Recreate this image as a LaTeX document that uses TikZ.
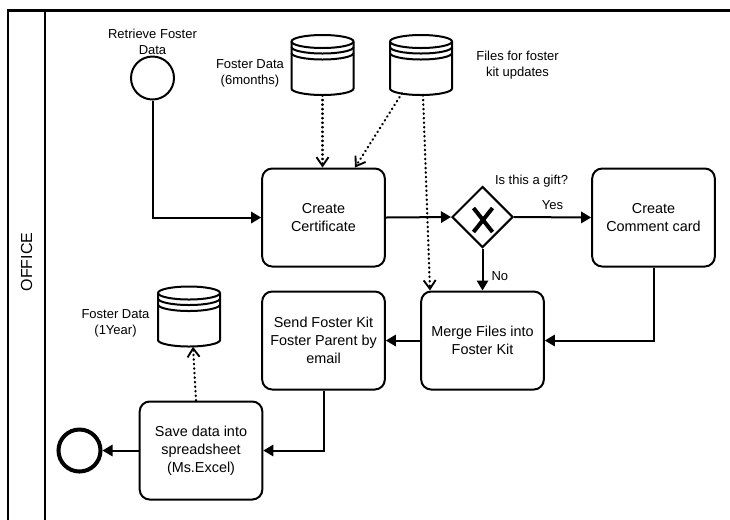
\documentclass[tikz,border=0pt]{standalone}
\usepackage{fontspec}
\setmainfont{Liberation Sans}
\usetikzlibrary{arrows.meta,shapes.geometric,calc}
\newcommand\drawstore[1]{%
  \begin{scope}[shift={(#1.center)},x=0.75pt,y=0.75pt,line width=1.5pt]
    \draw (0,23.5) ellipse[x radius=31,y radius=6.5];
    \draw (-31,18) arc[start angle=180,end angle=360,x radius=31,y radius=6.5];
    \draw (-31,12) arc[start angle=180,end angle=360,x radius=31,y radius=6.5];
    \draw (-31,23.5) -- (-31,-23.5) arc[start angle=180,end angle=360,x radius=31,y radius=6.5] -- (31,23.5);
  \end{scope}}
\begin{document}
\begin{tikzpicture}[x=0.75pt,y=-0.75pt,
  task/.style={draw,rounded corners=7.5pt,line width=1.5pt,minimum width=92pt,minimum height=73.5pt,inner sep=2pt,align=center,font=\fontsize{10.8}{13.5}\selectfont},
  lbl/.style={align=center,font=\fontsize{9.75}{12}\selectfont,inner sep=0pt},
  store/.style={minimum width=46.5pt,minimum height=45pt,inner sep=0pt},
  event/.style={circle,draw,inner sep=0pt,minimum size=32.25pt},
  flow/.style={line width=1.5pt,-{Triangle[length=7.5pt,width=8.5pt]}},
  assoc/.style={line width=1.7pt,dash pattern=on 0.4pt off 3pt,line cap=round,-{Straight Barb[length=6.5pt,width=9pt,line width=1.4pt]}},
]
\useasboundingbox (0,0) rectangle (730,519);
% pool / lane
\draw[line width=2pt] (730,10.5) -- (8,10.5) -- (8,525);
\draw[line width=1.5pt] (44.5,10.5) -- (44.5,525);
\node[rotate=90,font=\fontsize{12}{14}\selectfont] (lane) at (26.5,262) {OFFICE};

% events
\node[event,line width=1.5pt] (start) at (152.5,78) {};
\node[lbl] (startlbl) at (152.5,42) {Retrieve Foster\\Data};
\node[event,line width=3pt,minimum size=31.5pt] (end) at (79.5,450.5) {};

% data stores
\node[store] (db1) at (322.5,65) {};
\drawstore{db1}
\node[lbl] (db1lbl) at (250,73) {Foster Data\\(6months)};
\node[store] (db2) at (421,65) {};
\drawstore{db2}
\node[lbl] (db2lbl) at (517.5,65.5) {Files for foster\\kit updates};
\node[store] (db3) at (189,316.5) {};
\drawstore{db3}
\node[lbl] (db3lbl) at (115.5,323.5) {Foster Data\\(1Year)};

% tasks
\node[task] (cert) at (323.5,217.5) {Create\\Certificate};
\node[task] (comment) at (653.5,217.5) {Create\\Comment card};
\node[task] (merge) at (482.5,340.5) {Merge Files into\\Foster Kit};
\node[task] (send) at (323.5,340.5) {Send Foster Kit\\Foster Parent by\\email};
\node[task] (save) at (201,450.5) {Save data into\\spreadsheet\\(Ms.Excel)};

% gateway
\node[diamond,draw,line width=1.5pt,aspect=1,inner sep=0pt,minimum width=45.75pt,minimum height=45.75pt] (gw) at (482.5,217) {};
\draw[line width=3pt] ($(gw.center)+(-9,-9)$) -- ($(gw.center)+(10,15)$);
\draw[line width=3pt] ($(gw.center)+(10,-9)$) -- ($(gw.center)+(-9,15)$);
\node[lbl] (gwlbl) at (531.5,181.5) {Is this a gift?};

% sequence flows
\draw[flow] (start.south) |- (cert.west);
\draw[flow] (cert.east) -- (gw.west);
\draw[flow] (gw.east) -- node[lbl,above,yshift=5pt] (yes) {Yes} (comment.west);
\draw[flow] (gw.south) -- node[lbl,right,xshift=6pt,yshift=-5pt] (no) {No} (merge.north);
\draw[flow] (comment.south) |- (merge.east);
\draw[flow] (merge.west) -- (send.east);
\draw[flow] (send.south) |- (save.east);
\draw[flow] (save.west) -- (end.east);

% data associations
\draw[assoc] (db1.south) -- (db1.south |- cert.north);
\draw[assoc] ($(db2.south)+(-19,-2)$) -- ($(cert.north)+(31.5,0)$);
\draw[assoc] ($(db2.south)+(2,0)$) -- ($(merge.north)+(-52.5,0)$);
\draw[assoc] ($(save.north)+(-5,0)$) -- ($(db3.south)+(4,0)$);
\end{tikzpicture}
\end{document}
